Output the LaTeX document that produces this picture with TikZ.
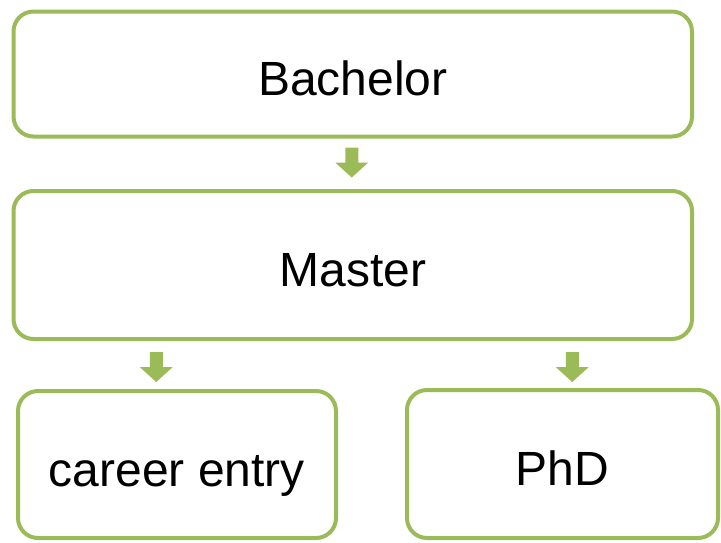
\documentclass[tikz,border=0pt]{standalone}
\usepackage{fontspec}
\setmainfont{Liberation Sans}
\definecolor{accgreen}{HTML}{9BBB59}
\begin{document}
\begin{tikzpicture}[x=1pt,y=-1pt,
  box/.style={draw=accgreen, line width=4pt, rounded corners=20pt, fill=white,
    inner sep=0pt, text height=43pt, text depth=0pt,
    font=\fontsize{48}{52}\selectfont},
  blockarrow/.pic={\fill[accgreen] (-6.5,0) -- (6.5,0) -- (6.5,15) -- (16.5,15) -- (0,30) -- (-16.5,15) -- (-6.5,15) -- cycle;}
]
\useasboundingbox (0,0) rectangle (721,542);
\node[box, minimum width=678.5pt, minimum height=125pt] (bach) at (352.75,74) {Bachelor};
\node[box, minimum width=678.5pt, minimum height=148pt] (mast) at (352.75,265) {Master};
\node[box, minimum width=318pt, minimum height=147pt] (career) at (177,464.5) {career entry};
\node[box, minimum width=311pt, minimum height=148pt] (phd) at (562.5,464) {PhD};
\path (bach.south) ++(-1,9) pic {blockarrow};
\path (mast.south) ++(-196.5,11) pic {blockarrow};
\path (mast.south) ++(219.5,11) pic {blockarrow};
\end{tikzpicture}
\end{document}
